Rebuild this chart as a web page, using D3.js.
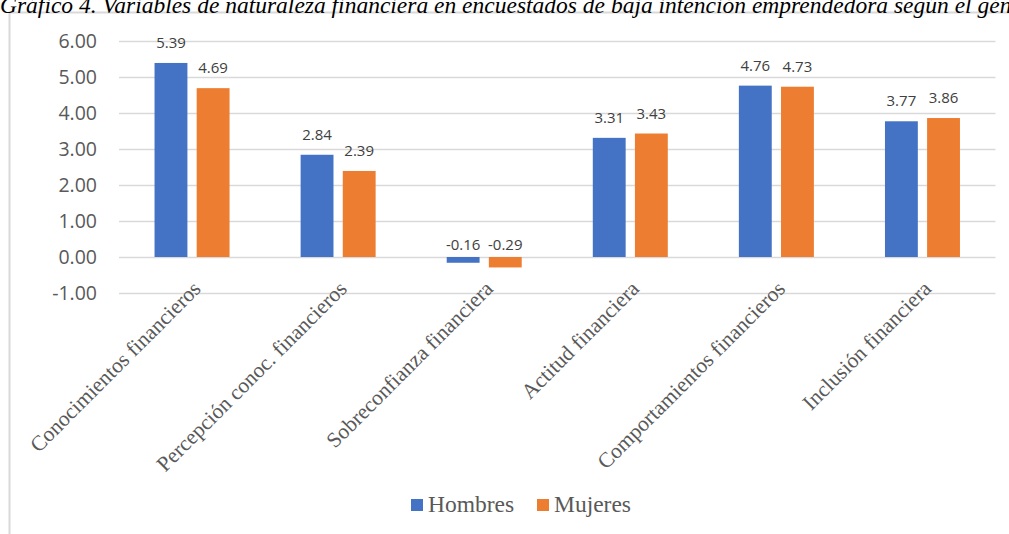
<!DOCTYPE html>
<html lang="es">
<head>
<meta charset="UTF-8">
<title>Gráfico 4</title>
<style>
    body { margin: 0; background: #fff; }
    .title { font-family: "Liberation Serif", serif; font-style: italic; font-size: 23.5px; fill: #000; }
    .tick-label { font-family: "Open Sans", "Liberation Sans", sans-serif; font-size: 19.5px; fill: #595959; }
    .data-label { font-family: "Open Sans", "Liberation Sans", sans-serif; font-size: 15px; fill: #404040; }
    .cat-label { font-family: "Liberation Serif", serif; font-size: 21.5px; fill: #595959; }
    .legend-label { font-family: "Liberation Serif", serif; font-size: 23.5px; fill: #595959; }
</style>
</head>
<body>
<div id="chart"></div>
<script src="https://d3js.org/d3.v7.min.js"></script>
<script>
const categories = [
    "Conocimientos financieros",
    "Percepción conoc. financieros",
    "Sobreconfianza financiera",
    "Actitud financiera",
    "Comportamientos financieros",
    "Inclusión financiera"
];
const hombres = [5.39, 2.84, -0.16, 3.31, 4.76, 3.77];
const mujeres = [4.69, 2.39, -0.29, 3.43, 4.73, 3.86];
const seriesNames = ["Hombres", "Mujeres"];
const colors = ["#4472c4", "#ed7d31"];
const yTicks = [-1, 0, 1, 2, 3, 4, 5, 6];

const width = 1009, height = 534;
const svg = d3.select("#chart").append("svg")
    .attr("width", width)
    .attr("height", height);

// hyphen instead of the unicode minus, as in the original
const fmt = v => d3.format(".2f")(v).replace("\u2212", "-");

// chart frame (only left and top show inside the picture)
svg.append("rect")
    .attr("x", 9.5).attr("y", 12.5)
    .attr("width", 1100).attr("height", 600)
    .attr("fill", "none")
    .attr("stroke", "#d9d9d9")
    .attr("stroke-width", 2);

svg.append("text")
    .attr("class", "title")
    .attr("x", 0).attr("y", 13)
    .text("Gráfico 4. Variables de naturaleza financiera en encuestados de baja intención emprendedora según el género");

const x = d3.scaleBand().domain(categories).range([119, 995.5]);
const xs = d3.scaleBand().domain(seriesNames).range([0, 75]).paddingInner(0.22);
const y = d3.scaleLinear().domain([-1, 6]).range([293, 41]);

// gridlines + y labels
svg.append("g").selectAll("line").data(yTicks).join("line")
    .attr("x1", 119).attr("x2", 995.5)
    .attr("y1", d => Math.round(y(d)) + 0.5).attr("y2", d => Math.round(y(d)) + 0.5)
    .attr("stroke", "#d9d9d9").attr("stroke-width", 1.5);

svg.append("g").selectAll("text").data(yTicks).join("text")
    .attr("class", "tick-label")
    .attr("x", 97).attr("y", d => y(d))
    .attr("dy", "0.36em")
    .attr("text-anchor", "end")
    .text(fmt);

const data = [];
categories.forEach((c, i) => {
    data.push({ cat: c, s: "Hombres", v: hombres[i] });
    data.push({ cat: c, s: "Mujeres", v: mujeres[i] });
});
const off = (x.bandwidth() - 75) / 2;

svg.append("g").selectAll("rect").data(data).join("rect")
    .attr("x", d => x(d.cat) + off + xs(d.s))
    .attr("y", d => y(Math.max(0, d.v)))
    .attr("width", xs.bandwidth())
    .attr("height", d => Math.abs(y(d.v) - y(0)))
    .attr("fill", d => colors[seriesNames.indexOf(d.s)]);

svg.append("g").selectAll("text").data(data).join("text")
    .attr("class", "data-label")
    .attr("x", d => x(d.cat) + off + xs(d.s) + xs.bandwidth() / 2)
    .attr("y", d => d.v >= 0 ? y(d.v) - 15 : y(0) - 7)
    .attr("text-anchor", "middle")
    .text(d => fmt(d.v));

// rotated category labels
svg.append("g").selectAll("text").data(categories).join("text")
    .attr("class", "cat-label")
    .attr("text-anchor", "end")
    .attr("transform", d => `translate(${x(d) + x.bandwidth() / 2 + 10},${290}) rotate(-45)`)
    .text(d => d);

// legend
const legend = svg.append("g");
const legendX = [411, 537];
seriesNames.forEach((s, i) => {
    legend.append("rect")
        .attr("x", legendX[i]).attr("y", 499)
        .attr("width", 12).attr("height", 12)
        .attr("fill", colors[i]);
    legend.append("text")
        .attr("class", "legend-label")
        .attr("x", legendX[i] + 17).attr("y", 512)
        .text(s);
});
</script>
</body>
</html>
